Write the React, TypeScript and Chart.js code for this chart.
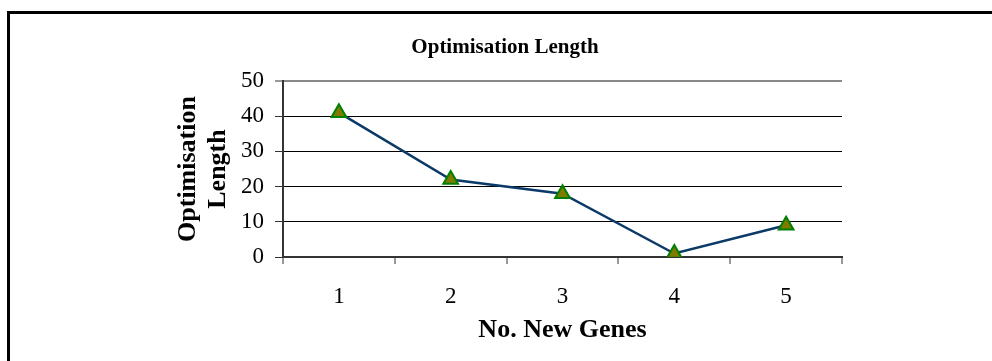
import { useEffect, useRef } from 'react';
import { Chart, registerables } from 'chart.js';

Chart.register(...registerables);

const categories = ['1', '2', '3', '4', '5'];
const optimisationLength = [41, 22, 18, 1, 9];
const yMin = 0;
const yMax = 50;
const yStep = 10;
const chartTitle = 'Optimisation Length';
const xTitle = 'No. New Genes';
const yTitle = ['Optimisation', 'Length'];

const FONT = "'Liberation Serif', 'Times New Roman', Times, serif";

export default function App() {
  const ref = useRef<HTMLCanvasElement>(null);

  useEffect(() => {
    const chart = new Chart(ref.current!, {
      type: 'line',
      data: {
        labels: categories,
        datasets: [
          {
            data: optimisationLength,
            borderColor: '#0b3a68',
            borderWidth: 2.5,
            pointStyle: 'triangle',
            pointRadius: 8.5,
            pointBackgroundColor: '#7f7a00',
            pointBorderColor: '#008000',
            pointBorderWidth: 2,
            tension: 0,
            fill: false,
          },
        ],
      },
      options: {
        responsive: false,
        animation: false,
        devicePixelRatio: 1,
        events: [],
        layout: { padding: { left: 168, right: 150, top: 0, bottom: 15 } },
        plugins: {
          legend: { display: false },
          tooltip: { enabled: false },
          title: {
            display: true,
            text: chartTitle,
            color: '#000',
            font: { family: FONT, size: 21, weight: 'bold', lineHeight: 1.2 },
            padding: { top: 35, bottom: 20.8 },
          },
        },
        scales: {
          x: {
            type: 'category',
            offset: true,
            grid: {
              offset: true,
              drawOnChartArea: true,
              color: (ctx: any) => (ctx.index === categories.length ? '#888' : 'rgba(0,0,0,0)'),
              lineWidth: 2,
              drawTicks: true,
              tickLength: 7,
              tickColor: '#333',
              tickWidth: 1,
            },
            border: { color: '#333', width: 2 },
            ticks: { color: '#000', font: { family: FONT, size: 23 }, padding: 19, maxRotation: 0 },
            title: {
              display: true,
              text: xTitle,
              color: '#000',
              font: { family: FONT, size: 26, weight: 'bold', lineHeight: 1.2 },
              padding: { top: 0, bottom: 0 },
            },
            afterFit: (s: any) => {
              s.height = 89;
            },
          },
          y: {
            min: yMin,
            max: yMax,
            grid: {
              color: (ctx: any) => (ctx.tick && ctx.tick.value === yMax ? '#888' : '#000'),
              lineWidth: (ctx: any) => (ctx.tick && ctx.tick.value === yMax ? 2 : 1),
              drawTicks: true,
              tickLength: 8,
              tickColor: '#333',
              tickWidth: 1,
            },
            border: { color: '#333', width: 2 },
            ticks: { stepSize: yStep, color: '#000', font: { family: FONT, size: 23 }, padding: 11 },
            title: {
              display: true,
              text: yTitle,
              color: '#000',
              font: { family: FONT, size: 26, weight: 'bold', lineHeight: 1.15 },
              padding: { top: 5, bottom: 0 },
            },
            afterFit: (s: any) => {
              s.width = 115;
            },
          },
        },
      },
    });
    return () => chart.destroy();
  }, []);

  return (
    <div
      style={{
        position: 'absolute',
        left: 0,
        top: 0,
        width: 992,
        height: 361,
        overflow: 'hidden',
        background: '#fff',
      }}
    >
      <div
        style={{
          position: 'absolute',
          left: 7,
          top: 11,
          width: 1200,
          height: 600,
          border: '3px solid #000',
          boxSizing: 'border-box',
        }}
      />
      <canvas ref={ref} width={992} height={361} style={{ position: 'absolute', left: 0, top: 0 }} />
    </div>
  );
}
